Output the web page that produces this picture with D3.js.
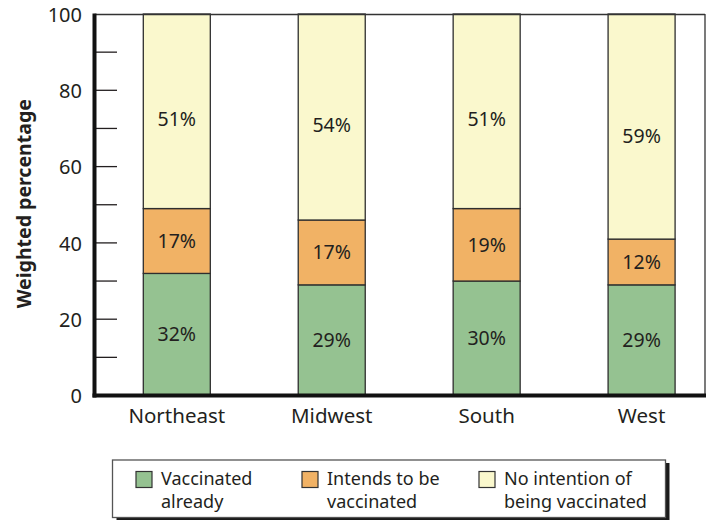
<!DOCTYPE html>
<html>
<head>
<meta charset="utf-8">
<script src="https://cdn.jsdelivr.net/npm/d3@7"></script>
<style>
  html, body { margin: 0; padding: 0; background: #fff; }
  svg { display: block; }
  text { font-family: "Noto Sans", "Open Sans", sans-serif; fill: #231f20; }
</style>
</head>
<body>
<svg id="chart" width="713" height="520"></svg>
<script>
// ---- data ----
const regions = ["Northeast", "Midwest", "South", "West"];
const vaccinatedAlready = [32, 29, 30, 29];
const intendsToBeVaccinated = [17, 17, 19, 12];
const noIntention = [51, 54, 51, 59];
const seriesNames = ["Vaccinated already", "Intends to be vaccinated", "No intention of being vaccinated"];
const legendLines = [["Vaccinated", "already"], ["Intends to be", "vaccinated"], ["No intention of", "being vaccinated"]];
const yTicks = [0, 10, 20, 30, 40, 50, 60, 70, 80, 90, 100];
const yTickLabels = ["0", "", "20", "", "40", "", "60", "", "80", "", "100"];
const yTitle = "Weighted percentage";

(function () {
const colors = ["#95c291", "#f1b265", "#faf8cd"];
const labelFrac = [0.5, 0.5, 0.46];

const rows = regions.map((r, i) => ({
  region: r,
  s0: vaccinatedAlready[i],
  s1: intendsToBeVaccinated[i],
  s2: noIntention[i]
}));
const keys = ["s0", "s1", "s2"];
const stacked = d3.stack().keys(keys)(rows);

const svg = d3.select("#chart");
const pLeft = 94.5, pRight = 705, pTop = 14, pBottom = 395.5;

const x = d3.scaleBand().domain(regions).range([pLeft, pRight])
  .paddingInner(0.5675).paddingOuter(0.254).align(0.62);
const y = d3.scaleLinear().domain([0, 100]).range([pBottom, pTop]);

// bars
const g = svg.append("g");
stacked.forEach((layer, li) => {
  g.append("g").selectAll("rect").data(layer).join("rect")
    .attr("x", d => x(d.data.region))
    .attr("width", x.bandwidth())
    .attr("y", d => y(d[1]))
    .attr("height", d => y(d[0]) - y(d[1]))
    .attr("fill", colors[li])
    .attr("stroke", "#2e2e2e")
    .attr("stroke-width", 1.3);
  g.append("g").selectAll("text").data(layer).join("text")
    .attr("x", d => x(d.data.region) + x.bandwidth() / 2)
    .attr("y", d => y(d[0] + (d[1] - d[0]) * labelFrac[li]))
    .attr("dy", "0.36em")
    .attr("text-anchor", "middle")
    .attr("font-size", 19.5)
    .text(d => (d[1] - d[0]) + "%");
});

// frame: thin top and right
svg.append("line").attr("x1", pLeft).attr("x2", pRight).attr("y1", pTop + 0.5).attr("y2", pTop + 0.5)
  .attr("stroke", "#333").attr("stroke-width", 1.3);
svg.append("line").attr("x1", pRight).attr("x2", pRight).attr("y1", pTop).attr("y2", pBottom)
  .attr("stroke", "#333").attr("stroke-width", 1.3);

// y axis ticks (inside) and labels
const yAxis = svg.append("g");
yAxis.selectAll("line.tick").data(yTicks.filter(t => t > 0 && t < 100)).join("line")
  .attr("class", "tick")
  .attr("x1", pLeft).attr("x2", 117)
  .attr("y1", d => y(d)).attr("y2", d => y(d))
  .attr("stroke", "#231f20").attr("stroke-width", 1.3);
yAxis.selectAll("text").data(yTicks).join("text")
  .attr("x", 82)
  .attr("y", d => y(d))
  .attr("dy", "0.38em")
  .attr("text-anchor", "end")
  .attr("font-size", 20)
  .text((d, i) => yTickLabels[i]);

// thick axes
svg.append("line").attr("x1", pLeft).attr("x2", pLeft).attr("y1", pTop - 0.5).attr("y2", pBottom + 2)
  .attr("stroke", "#111").attr("stroke-width", 4);
svg.append("line").attr("x1", pLeft - 2).attr("x2", pRight + 1).attr("y1", pBottom).attr("y2", pBottom)
  .attr("stroke", "#111").attr("stroke-width", 4);

// category labels
svg.append("g").selectAll("text").data(regions).join("text")
  .attr("x", d => x(d) + x.bandwidth() / 2)
  .attr("y", 423)
  .attr("text-anchor", "middle")
  .attr("font-size", 20.5)
  .text(d => d);

// y title
svg.append("text")
  .attr("transform", `translate(31, ${(pTop + pBottom) / 2 - 1}) rotate(-90)`)
  .attr("text-anchor", "middle")
  .attr("font-size", 19.5)
  .attr("font-weight", "bold")
  .text(yTitle);

// legend
const lg = svg.append("g");
lg.append("rect").attr("x", 116.5).attr("y", 463).attr("width", 553).attr("height", 57.5).attr("fill", "#1a1a1a");
lg.append("rect").attr("x", 112.5).attr("y", 460).attr("width", 553).attr("height", 57.5)
  .attr("fill", "#fff").attr("stroke", "#555").attr("stroke-width", 1.3);
const legendX = [136, 302, 479];
seriesNames.forEach((name, i) => {
  lg.append("rect").attr("x", legendX[i]).attr("y", 471.5).attr("width", 16).attr("height", 16)
    .attr("fill", colors[i]).attr("stroke", "#333").attr("stroke-width", 1.2);
  const t = lg.append("text").attr("x", legendX[i] + 25).attr("y", 485).attr("font-size", 18);
  legendLines[i].forEach((line, k) => {
    t.append("tspan").attr("x", legendX[i] + 25).attr("dy", k === 0 ? 0 : 22.7).text(line);
  });
});
})();
</script>
</body>
</html>
